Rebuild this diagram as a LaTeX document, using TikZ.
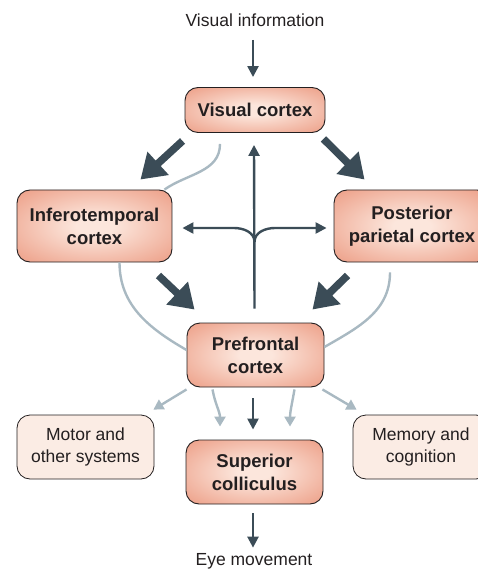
\documentclass[tikz,border=0pt]{standalone}
\usepackage{fontspec}
\setmainfont{Liberation Sans}
\usepackage{tikz}
\usetikzlibrary{arrows.meta,calc}

\definecolor{slate}{HTML}{3B4C57}
\definecolor{mist}{HTML}{A9B9C2}
\definecolor{salmonout}{HTML}{E98E73}
\definecolor{salmonin}{HTML}{FCE6DC}
\definecolor{paleboxfill}{HTML}{FBECE4}
\definecolor{inkgray}{HTML}{231F20}
\pgfdeclareradialshading{boxglow}{\pgfpoint{0bp}{0bp}}{color(0bp)=(salmonin); color(6bp)=(salmonin); color(42bp)=(salmonout); color(72bp)=(salmonout)}

\tikzset{
  area/.style={draw=inkgray, line width=0.9pt, rounded corners=13pt, shading=boxglow,
    align=center, text=inkgray, font=\fontsize{18.5}{23}\selectfont\bfseries},
  outarea/.style={draw=inkgray, line width=0.8pt, rounded corners=13pt, fill=paleboxfill,
    align=center, text=inkgray, font=\fontsize{17.5}{22}\selectfont},
  label/.style={text=inkgray, font=\fontsize{17.5}{22}\selectfont},
  thinarrow/.style={draw=slate, line width=2.4pt, -{Triangle[length=11pt,width=11pt]}},
  fatarrow/.style={draw=slate, line width=7.5pt, -{Triangle[length=24pt,width=30pt]}},
  greyline/.style={draw=mist, line width=2.4pt},
  greyarrow/.style={draw=mist, line width=2.4pt, -{Triangle[length=10pt,width=11pt]}}
}

\begin{document}
\begin{tikzpicture}[x=1pt,y=1pt]
\useasboundingbox (0,0) rectangle (477,-569);

\node[label] (vis) at (255,-20) {Visual information};
\node[area, minimum width=140pt, minimum height=45pt] (vc) at (255,-110) {Visual cortex};
\node[area, minimum width=155pt, minimum height=72pt] (it) at (94.5,-226) {Inferotemporal\\cortex};
\node[area, minimum width=156pt, minimum height=72pt] (ppc) at (412,-226) {Posterior\\parietal cortex};
\node[area, minimum width=137pt, minimum height=64pt] (pfc) at (255.5,-355) {Prefrontal\\cortex};
\node[outarea, minimum width=137pt, minimum height=64pt] (motor) at (85.5,-447) {Motor and\\other systems};
\node[area, minimum width=137pt, minimum height=64pt] (sc) at (254.5,-472) {Superior\\colliculus};
\node[outarea, minimum width=136pt, minimum height=64pt] (mem) at (421,-447) {Memory and\\cognition};
\node[label] (eye) at (254,-561) {Eye movement};

% input and output
\draw[thinarrow] ($(vis.south)+(-2,-10)$) -- ($(vc.north)+(-2,10)$);
\draw[thinarrow] ($(sc.south)+(-1.5,-9)$) -- ($(eye.north)+(-1,2)$);

% feedforward streams
\draw[fatarrow] ($(vc.south west)+(-2,-8)$) -- ($(it.north east)+(-32,10)$);
\draw[fatarrow] ($(vc.south east)+(-2,-6)$) -- ($(ppc.north west)+(31,10)$);
\draw[fatarrow] ($(it.south east)+(-14,-13)$) -- ($(pfc.north west)+(8,13)$);
\draw[fatarrow] ($(ppc.south west)+(14,-13)$) -- ($(pfc.north east)+(-12,13)$);

% feedback from prefrontal cortex
\coordinate (fork) at (254.5,-242);
\draw[thinarrow] ($(pfc.north)+(-1,14)$) -- ($(vc.south)+(-1,-12)$);
\draw[thinarrow, rounded corners=0pt] (fork) to[out=90,in=0] (234,-228) -- ($(it.east)+(10,-2)$);
\draw[thinarrow, rounded corners=0pt] (fork) to[out=90,in=180] (275,-228) -- ($(ppc.west)+(-7,-2)$);

% grey links
\draw[greyline] ($(vc.south)+(-35,-11)$) to[out=-90,in=35] ($(it.north east)+(-8,0)$);
\draw[greyline] ($(it.south)+(25,0)$) to[out=-90,in=150] ($(pfc.west)+(0,5)$);
\draw[greyline] ($(ppc.south)+(-22,-10)$) to[out=-90,in=30] ($(pfc.east)+(0,8)$);

% prefrontal outputs
\draw[greyarrow] ($(pfc.south west)+(0,-2)$) -- ($(motor.north east)+(-1,5)$);
\draw[greyarrow] ($(pfc.south)+(-43,-2)$) to[out=-80,in=90] ($(sc.north)+(-34.5,13)$);
\draw[greyarrow] ($(pfc.south)+(39,-2)$) to[out=-100,in=90] ($(sc.north)+(35.5,13)$);
\draw[greyarrow] ($(pfc.south east)+(-2,-2)$) -- ($(mem.north west)+(4,5)$);
\draw[thinarrow] ($(pfc.south)+(-2.5,-11)$) -- ($(sc.north)+(-1.5,10)$);
\end{tikzpicture}
\end{document}
